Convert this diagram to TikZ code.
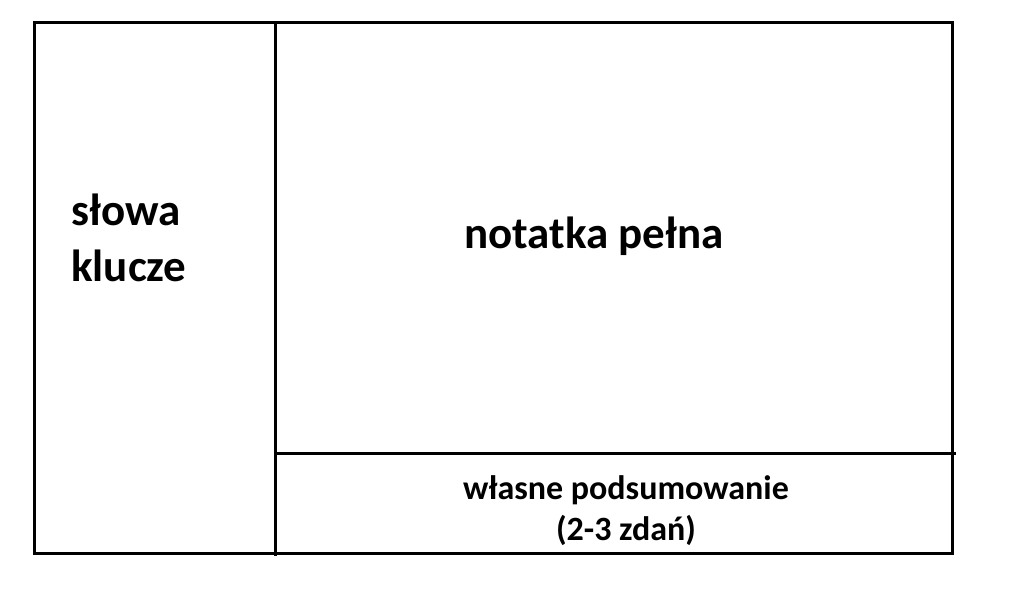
\documentclass[tikz,border=0pt]{standalone}
\usepackage{fontspec}
\setmainfont{Carlito}
\usetikzlibrary{positioning}
\tikzset{
x=1pt, y=-1pt, % one unit is one pixel of the sheet, y runs downwards
sheetline/.style={line width=3pt}, % the lines that divide the sheet
bigtext/.style={font=\bfseries\fontsize{45}{56}\selectfont, inner sep=0pt}, % headings of the two big fields
smalltext/.style={font=\bfseries\fontsize{34}{41}\selectfont, inner sep=0pt, align=center}, % heading of the bottom field
}

\begin{document}
\begin{tikzpicture}
                \useasboundingbox (0,0) rectangle (1024,595);
                \coordinate (topleft) at (34,22);
                \coordinate (bottomright) at (952,553);
                \coordinate (splittop) at (275,22);
                \coordinate (splitbottom) at (275,556);
                \coordinate (summaryleft) at (275,453);
                \coordinate (summaryright) at (956,453);
                \draw[sheetline] (topleft) rectangle (bottomright);
                \draw[sheetline] (splittop) -- (splitbottom);
                \draw[sheetline] (summaryleft) -- (summaryright);
                \node[bigtext, align=left, anchor=west] (keywords) at (71,238) {słowa\\klucze};
                \node[bigtext, anchor=base] (notes) at (594,248) {notatka pełna};
                \node[smalltext] (summary) at (626,511) {własne podsumowanie\\(2-3 zdań)};
\end{tikzpicture}
\end{document}
